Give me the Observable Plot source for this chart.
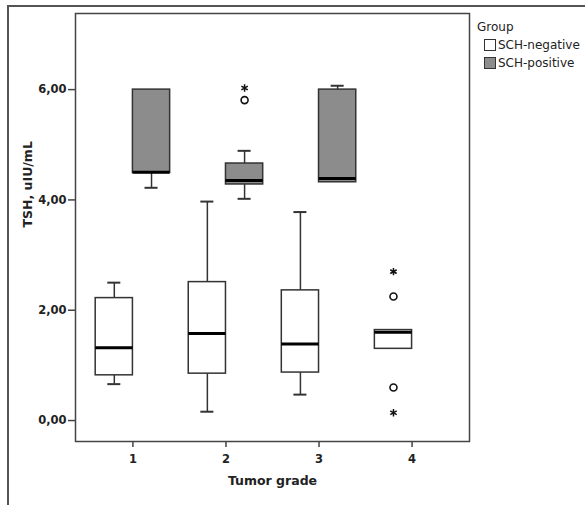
<!DOCTYPE html>
<html>
<head>
<meta charset="utf-8">
<script src="https://cdn.jsdelivr.net/npm/d3@7"></script>
<script src="https://cdn.jsdelivr.net/npm/@observablehq/plot@0.6"></script>
<style>
  html, body { margin: 0; padding: 0; background: #fff; }
  #wrap { position: relative; width: 585px; height: 505px; overflow: hidden; }
  #outer { position: absolute; left: 7px; top: 5px; width: 600px; height: 520px;
           border-top: 2px solid #555; border-left: 2px solid #555; box-sizing: border-box; }
  #chart { position: absolute; left: 0; top: 0; }
  #legend { position: absolute; left: 477px; top: 20px; font-family: "DejaVu Sans", sans-serif;
            font-size: 12px; color: #222; }
  #legend .title { margin-bottom: 2px; }
  #legend .item { display: flex; align-items: center; height: 18px; margin-left: 7px; }
  #legend .sw { width: 10px; height: 10px; border: 1px solid #333; margin-right: 2px; }
</style>
</head>
<body>
<div id="wrap">
  <div id="outer"></div>
  <div id="chart"></div>
  <div id="legend"></div>
</div>
<script>
// Box summary data (one entry per box)
const grades  = [1, 1, 2, 2, 3, 3, 4];
const groups  = ["SCH-negative", "SCH-positive", "SCH-negative", "SCH-positive", "SCH-negative", "SCH-positive", "SCH-negative"];
const lows    = [0.66, 4.22, 0.16, 4.02, 0.47, 4.32, 1.30];
const q1s     = [0.82, 4.49, 0.85, 4.28, 0.87, 4.32, 1.30];
const medians = [1.32, 4.50, 1.58, 4.35, 1.39, 4.39, 1.60];
const q3s     = [2.22, 6.00, 2.51, 4.66, 2.36, 6.00, 1.64];
const highs   = [2.50, 6.00, 3.97, 4.89, 3.78, 6.07, 1.64];

// Outliers (circle) and extremes (star)
const outGrades = [2, 2, 4, 4, 4, 4];
const outGroups = ["SCH-positive", "SCH-positive", "SCH-negative", "SCH-negative", "SCH-negative", "SCH-negative"];
const outValues = [6.03, 5.81, 2.70, 2.25, 0.60, 0.14];
const outKinds  = ["extreme", "outlier", "extreme", "outlier", "outlier", "extreme"];

const groupNames = ["SCH-negative", "SCH-positive"];
const groupFills = ["#ffffff", "#8c8c8c"];
const yTicks = [0, 2, 4, 6];
const xTicks = [1, 2, 3, 4];

const offset = {"SCH-negative": -0.2, "SCH-positive": 0.2};
const half = 0.2, cap = 0.07;

const boxes = grades.map((g, i) => ({
  grade: g, group: groups[i], low: lows[i], q1: q1s[i], median: medians[i], q3: q3s[i], high: highs[i],
  cx: g + offset[groups[i]]
}));
const outs = outGrades.map((g, i) => ({
  grade: g, group: outGroups[i], value: outValues[i], kind: outKinds[i], cx: g + offset[outGroups[i]]
}));

const stroke = "#333";
const fmt = d => d.toFixed(2).replace(".", ",");

const plot = Plot.plot({
  width: 585,
  height: 505,
  marginLeft: 75,
  marginRight: 116,
  marginTop: 13,
  marginBottom: 64,
  style: { fontFamily: "DejaVu Sans, sans-serif", background: "transparent" },
  x: { domain: [0.383, 4.617] },
  y: { domain: [-0.38, 7.38] },
  color: { domain: groupNames, range: groupFills },
  marks: [
    // whiskers
    Plot.ruleX(boxes.filter(d => d.high > d.q3), { x: "cx", y1: "q3", y2: "high", stroke, strokeWidth: 1.5 }),
    Plot.ruleX(boxes.filter(d => d.low < d.q1), { x: "cx", y1: "low", y2: "q1", stroke, strokeWidth: 1.5 }),
    Plot.ruleY(boxes.filter(d => d.high > d.q3), { y: "high", x1: d => d.cx - cap, x2: d => d.cx + cap, stroke, strokeWidth: 2 }),
    Plot.ruleY(boxes.filter(d => d.low < d.q1), { y: "low", x1: d => d.cx - cap, x2: d => d.cx + cap, stroke, strokeWidth: 2 }),
    // boxes
    Plot.rect(boxes, { x1: d => d.cx - half, x2: d => d.cx + half, y1: "q1", y2: "q3", fill: "group", stroke, strokeWidth: 1.5 }),
    // medians
    Plot.ruleY(boxes, { y: "median", x1: d => d.cx - half, x2: d => d.cx + half, stroke: "#000", strokeWidth: 3 }),
    // outliers
    Plot.dot(outs.filter(d => d.kind === "outlier"), { x: "cx", y: "value", r: 3.5, symbol: "circle", stroke: "#111", strokeWidth: 1.6, fill: "white" }),
    Plot.dot(outs.filter(d => d.kind === "extreme"), { x: "cx", y: "value", r: 3.5, symbol: "asterisk", stroke: "#111", strokeWidth: 1.5 }),
    // frame
    Plot.frame({ stroke: "#444", strokeWidth: 1.5 }),
    // axes
    Plot.axisY({ ticks: yTicks, tickFormat: fmt, tickSize: 7, tickPadding: 2, fontSize: 11.5, fontWeight: "bold", fill: "#222", stroke: "#444", strokeWidth: 1.5, label: null }),
    Plot.axisX({ ticks: xTicks, tickFormat: "d", tickSize: 6, tickPadding: 7, fontSize: 11.5, fontWeight: "bold", fill: "#222", stroke: "#444", strokeWidth: 1.5, label: null }),
    Plot.text(["TSH, uIU/mL"], { frameAnchor: "left", dx: -48, rotate: -90, fontSize: 12.5, fontWeight: "bold", fill: "#222" }),
    Plot.text(["Tumor grade"], { frameAnchor: "bottom", dy: 43, fontSize: 12.5, fontWeight: "bold", fill: "#222" })
  ]
});
document.getElementById("chart").appendChild(plot);

// legend
const lg = document.getElementById("legend");
const t = document.createElement("div");
t.className = "title";
t.textContent = "Group";
lg.appendChild(t);
groupNames.forEach((g, i) => {
  const it = document.createElement("div");
  it.className = "item";
  const sw = document.createElement("span");
  sw.className = "sw";
  sw.style.background = groupFills[i];
  const lab = document.createElement("span");
  lab.textContent = g;
  it.appendChild(sw);
  it.appendChild(lab);
  lg.appendChild(it);
});
</script>
</body>
</html>
